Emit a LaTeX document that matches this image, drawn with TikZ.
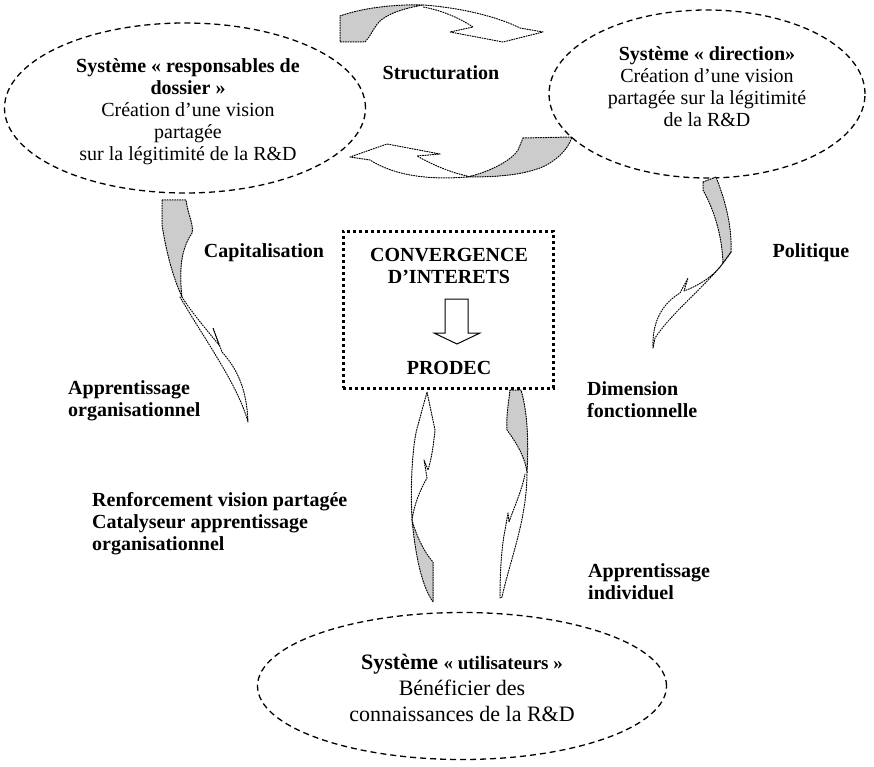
\documentclass[tikz,border=0pt]{standalone}
\usepackage{fontspec}
\setmainfont{Liberation Serif}
\usetikzlibrary{shapes.geometric}
\begin{document}
\begin{tikzpicture}[x=1pt,y=-1pt,
  sysbox/.style={ellipse, draw, line width=1.3pt, dash pattern=on 6pt off 4pt, inner sep=0pt},
  convbox/.style={draw, line width=3pt, dash pattern=on 3pt off 3pt, inner sep=0pt},
  lbl/.style={font=\fontsize{20}{22}\selectfont\bfseries, align=center, inner sep=0pt},
  lblL/.style={lbl, align=left, anchor=west},
  body/.style={font=\fontsize{20}{22}\selectfont, align=center, inner sep=0pt},
  flow/.style={draw, line width=1pt, dash pattern=on 1.1pt off 1.4pt, line cap=round, line join=round},
  twist/.style={flow, fill=black!20},
]
\useasboundingbox (0,0) rectangle (874,767);

% the three systems
\node (resp) [sysbox, minimum width=361pt, minimum height=170pt] at (185,108) {};
\node (dir)  [sysbox, minimum width=316pt, minimum height=168pt] at (707,94) {};
\node (util) [sysbox, minimum width=409pt, minimum height=147pt] at (462,686) {};

\node (resptxt) [body] at (188,112) {\textbf{Système « responsables de}\\ \textbf{dossier »}\\ Création d’une vision\\ partagée\\ sur la légitimité de la R\&D};
\node (dirtxt) [body] at (707,87) {\textbf{Système « direction»}\\ Création d’une vision\\ partagée sur la légitimité\\ de la R\&D};
\node (utiltxt) [body, font=\fontsize{22}{26}\selectfont] at (462,688) {\textbf{Système \fontsize{19}{26}\selectfont« utilisateurs »}\\ Bénéficier des\\ connaissances de la R\&D};

% central box
\node (conv) [convbox, minimum width=210pt, minimum height=157pt] at (448,309.5) {};
\node (convtxt) [lbl] at (449,266) {CONVERGENCE\\ D’INTERETS};
\node (prodec) [lbl] at (449,368) {PRODEC};
\draw[line width=1pt, fill=white] (445,299) -- (468,299) -- (468,333) -- (480,333)
  -- (457,344) -- (434,333) -- (445,333) -- cycle;

% labels
\node (struct) [lbl] at (441,73) {Structuration};
\node (capit)  [lbl] at (264,253) {Capitalisation};
\node (polit)  [lbl] at (811,253) {Politique};
\node (apporg) [lblL] at (68,401) {Apprentissage\\ organisationnel};
\node (dimf)   [lblL] at (587,400) {Dimension\\ fonctionnelle};
\node (renf)   [lblL] at (92,524) {Renforcement vision partagée\\ Catalyseur apprentissage\\ organisationnel};
\node (appind) [lblL] at (588,582) {Apprentissage\\ individuel};

% structuration, upper arrow (towards the direction)
\draw[twist] (340,16) .. controls (362,8) and (395,4) .. (423,5)
  .. controls (400,9) and (386,15) .. (379,22) .. controls (373,29) and (370,37) .. (365,42)
  -- (340,42) -- cycle;
\draw[flow] (423,5) .. controls (465,8) and (500,18) .. (520,28) -- (543,32) -- (503,42)
  -- (450,32) -- (473,27) .. controls (458,17) and (440,10) .. (423,7);

% structuration, lower arrow (towards the responsables)
\draw[twist] (523,138) -- (572,137) .. controls (568,150) and (555,162) .. (540,168)
  .. controls (520,175) and (500,177) .. (467,177)
  .. controls (490,172) and (512,160) .. (518,150) -- cycle;
\draw[flow] (467,177) .. controls (430,180) and (395,176) .. (370,160) -- (350,157)
  -- (387,144) -- (440,154) -- (417,156) .. controls (435,166) and (450,172) .. (467,176);

% capitalisation
\draw[twist] (162,200) -- (186,200) .. controls (188,215) and (194,225) .. (192,233)
  .. controls (184,245) and (178,262) .. (182,297)
  .. controls (172,275) and (166,250) .. (162,225) -- cycle;
\draw[flow] (180,297) .. controls (205,340) and (238,385) .. (248,422)
  .. controls (247,400) and (243,375) .. (222,352) -- (213,328) -- (219,345)
  .. controls (205,328) and (190,310) .. (182,297);

% politique
\draw[twist] (703,182) -- (716,177) .. controls (725,200) and (732,225) .. (731,252)
  -- (723,263) .. controls (722,235) and (714,210) .. (703,190) -- cycle;
\draw[flow] (731,252) .. controls (712,282) and (675,308) .. (655,338) -- (653,348)
  .. controls (652,325) and (660,305) .. (680,293) -- (688,278) -- (684,291)
  .. controls (700,285) and (715,275) .. (723,263);

% utilisateurs to PRODEC
\draw[twist] (412,520) .. controls (416,535) and (424,552) .. (433,562) -- (433,602)
  .. controls (425,590) and (417,570) .. (412,520) -- cycle;
\draw[flow] (412,520) .. controls (410,480) and (413,440) .. (418,425) -- (427,392)
  -- (435,430) .. controls (433,450) and (431,460) .. (428,470) -- (424,460) -- (427,478)
  .. controls (420,490) and (414,505) .. (412,520);

% PRODEC to utilisateurs
\draw[twist] (510,390) -- (521,390) .. controls (527,410) and (529,440) .. (527,472)
  .. controls (525,458) and (518,445) .. (507,430) .. controls (506,415) and (509,400) .. (510,390) -- cycle;
\draw[flow] (527,472) .. controls (527,520) and (510,560) .. (502,597) -- (500,598)
  .. controls (500,560) and (503,540) .. (505,530) -- (508,513) -- (509,522)
  .. controls (515,505) and (522,490) .. (525,474);
\end{tikzpicture}
\end{document}
